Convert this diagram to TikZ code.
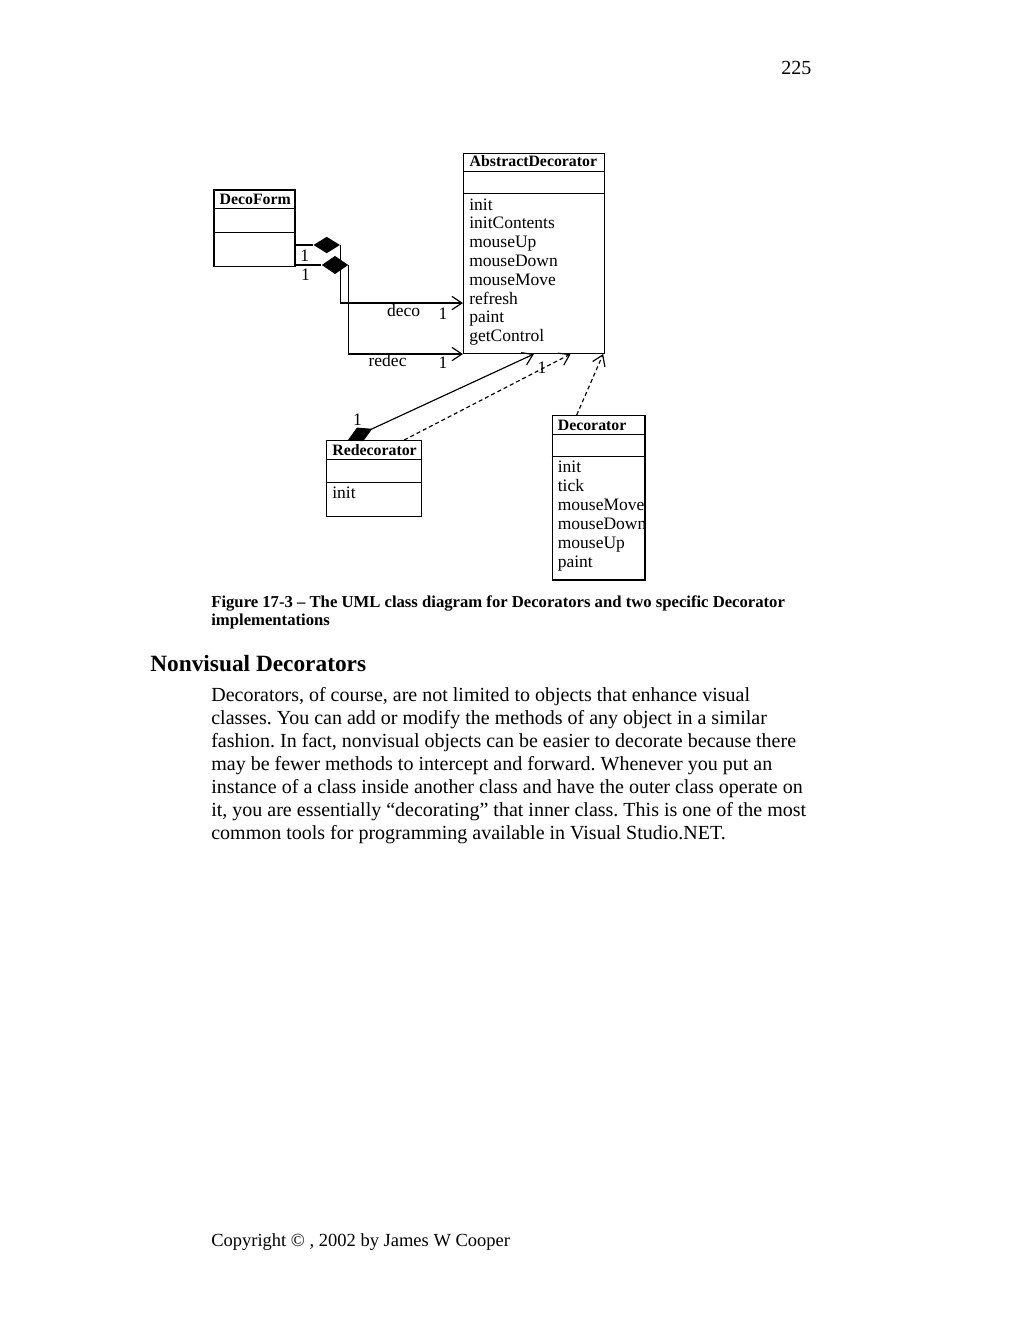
\documentclass[tikz,border=0pt]{standalone}
\usepackage{fontspec}
\setmainfont{Liberation Serif}
\usetikzlibrary{arrows.meta,shapes.geometric}
\frenchspacing

\begin{document}
\begin{tikzpicture}[x=0.6pt,y=-0.6pt,
    cls/.style={draw,line width=0.8pt,inner sep=0pt,anchor=north west},
    sep/.style={line width=0.8pt},
    title/.style={anchor=base west,inner sep=0pt,font=\fontsize{9.5}{11}\selectfont\bfseries},
    meth/.style={anchor=base west,inner sep=0pt,font=\fontsize{10.5}{12}\selectfont},
    lbl/.style={meth},
    comp/.style={diamond,fill,inner sep=0pt,minimum width=16pt,minimum height=10pt},
    link/.style={line width=0.7pt},
    assoc/.style={link,-{Straight Barb[length=6pt,width=8pt]}},
    own/.style={link,{Diamond[length=16pt,width=9pt]}-{Straight Barb[length=6pt,width=8pt]}},
    dep/.style={assoc,dash pattern=on 2.4pt off 1.8pt},
    txt/.style={anchor=base west,inner sep=0pt,font=\fontsize{12}{14}\selectfont},
    capline/.style={txt,font=\fontsize{10}{12}\selectfont\bfseries},
    head/.style={txt,font=\fontsize{14}{16}\selectfont\bfseries}]
    % page
    \fill[white] (0,0) rectangle (1023,1324);
    \useasboundingbox (0,0) rectangle (1023,1324);
    \node[txt,anchor=base east] (pnum) at (811.7,74.3) {225};

    % classes
    \node[cls,minimum width=84.3pt,minimum height=120pt] (adec) at (463,152.7) {};
    \draw[sep] ([yshift=-11.4pt]adec.north west) -- ([yshift=-11.4pt]adec.north east);
    \draw[sep] ([yshift=-24.4pt]adec.north west) -- ([yshift=-24.4pt]adec.north east);
    \node[title] (adec-t) at (469.3,166) {AbstractDecorator};
    \foreach \m [count=\i] in {init,initContents,mouseUp,mouseDown,mouseMove,refresh,paint,getControl}
        \node[meth] (adec-m\i) at (469,191.2+18.8*\i) {\m};

    \node[cls,minimum width=48.6pt,minimum height=46pt] (deco) at (213.3,189.3) {};
    \draw[sep] ([yshift=-11.4pt]deco.north west) -- ([yshift=-11.4pt]deco.north east);
    \draw[sep] ([yshift=-26pt]deco.north west) -- ([yshift=-26pt]deco.north east);
    \node[title] (deco-t) at (219.3,204.3) {DecoForm};

    \node[cls,minimum width=57pt,minimum height=45.6pt] (rdec) at (326,440) {};
    \draw[sep] ([yshift=-11.6pt]rdec.north west) -- ([yshift=-11.6pt]rdec.north east);
    \draw[sep] ([yshift=-25.6pt]rdec.north west) -- ([yshift=-25.6pt]rdec.north east);
    \node[title] (rdec-t) at (332,455) {Redecorator};
    \node[meth] (rdec-m1) at (332,498.3) {init};

    \node[cls,minimum width=55.6pt,minimum height=98.6pt] (dec) at (551.7,415) {};
    \draw[sep] ([yshift=-11.6pt]dec.north west) -- ([yshift=-11.6pt]dec.north east);
    \draw[sep] ([yshift=-25pt]dec.north west) -- ([yshift=-25pt]dec.north east);
    \node[title] (dec-t) at (557.5,430) {Decorator};
    \foreach \m [count=\i] in {init,tick,mouseMove,mouseDown,mouseUp,paint}
        \node[meth] (dec-m\i) at (557.5,452.9+19.1*\i) {\m};

    % DecoForm owns deco and redec
    \node[comp] (dA) at (326.7,245) {};
    \node[comp,minimum height=11pt] (dB) at (335,265) {};
    \draw[link] (dA.west -| deco.east) -- (dA.west);
    \draw[assoc] (dA.east) |- ([yshift=-29.8pt]adec.west);
    \draw[link] (dB.west -| deco.east) -- (dB.west);
    \draw[assoc] (dB.east) |- (adec.south west);
    \node[lbl] (m1) at (300,261.7) {1};
    \node[lbl] (m2) at (300.7,280.7) {1};
    \node[lbl] (l-deco) at (386.7,316.7) {deco};
    \node[lbl] (m3) at (438.3,319) {1};
    \node[lbl] (l-redec) at (368.3,366.7) {redec};
    \node[lbl] (m4) at (438.3,368) {1};

    % Redecorator and Decorator
    \draw[own] ([xshift=13.2pt]rdec.north west) -- (adec.south);
    \draw[dep] ([xshift=18pt]rdec.north) -- ([xshift=22pt]adec.south);
    \draw[dep] ([xshift=-13.2pt]dec.north) -- ([xshift=-1pt]adec.south east);
    \node[lbl] (m5) at (352.7,425) {1};
    \node[lbl] (m6) at (537.3,373) {1};

    % caption and text
    \node[capline] (cap1) at (211,607.3) {Figure 17-3 \textendash{} The UML class diagram for Decorators and two specific Decorator};
    \node[capline] (cap2) at (211,625.5) {implementations};
    \node[head] (head) at (150,671.7) {Nonvisual Decorators};
    \foreach \l [count=\i] in {
        {Decorators, of course, are not limited to objects that enhance visual},
        {classes. You can add or modify the methods of any object in a similar},
        {fashion. In fact, nonvisual objects can be easier to decorate because there},
        {may be fewer methods to intercept and forward. Whenever you put an},
        {instance of a class inside another class and have the outer class operate on},
        {it, you are essentially “decorating” that inner class. This is one of the most},
        {common tools for programming available in Visual Studio.NET.}}
        \node[txt] (body\i) at (211,678.5+23*\i) {\l};
    \node[txt,font=\fontsize{11.1}{13}\selectfont] (copy) at (211,1246) {Copyright © , 2002 by James W Cooper};
\end{tikzpicture}
\end{document}
